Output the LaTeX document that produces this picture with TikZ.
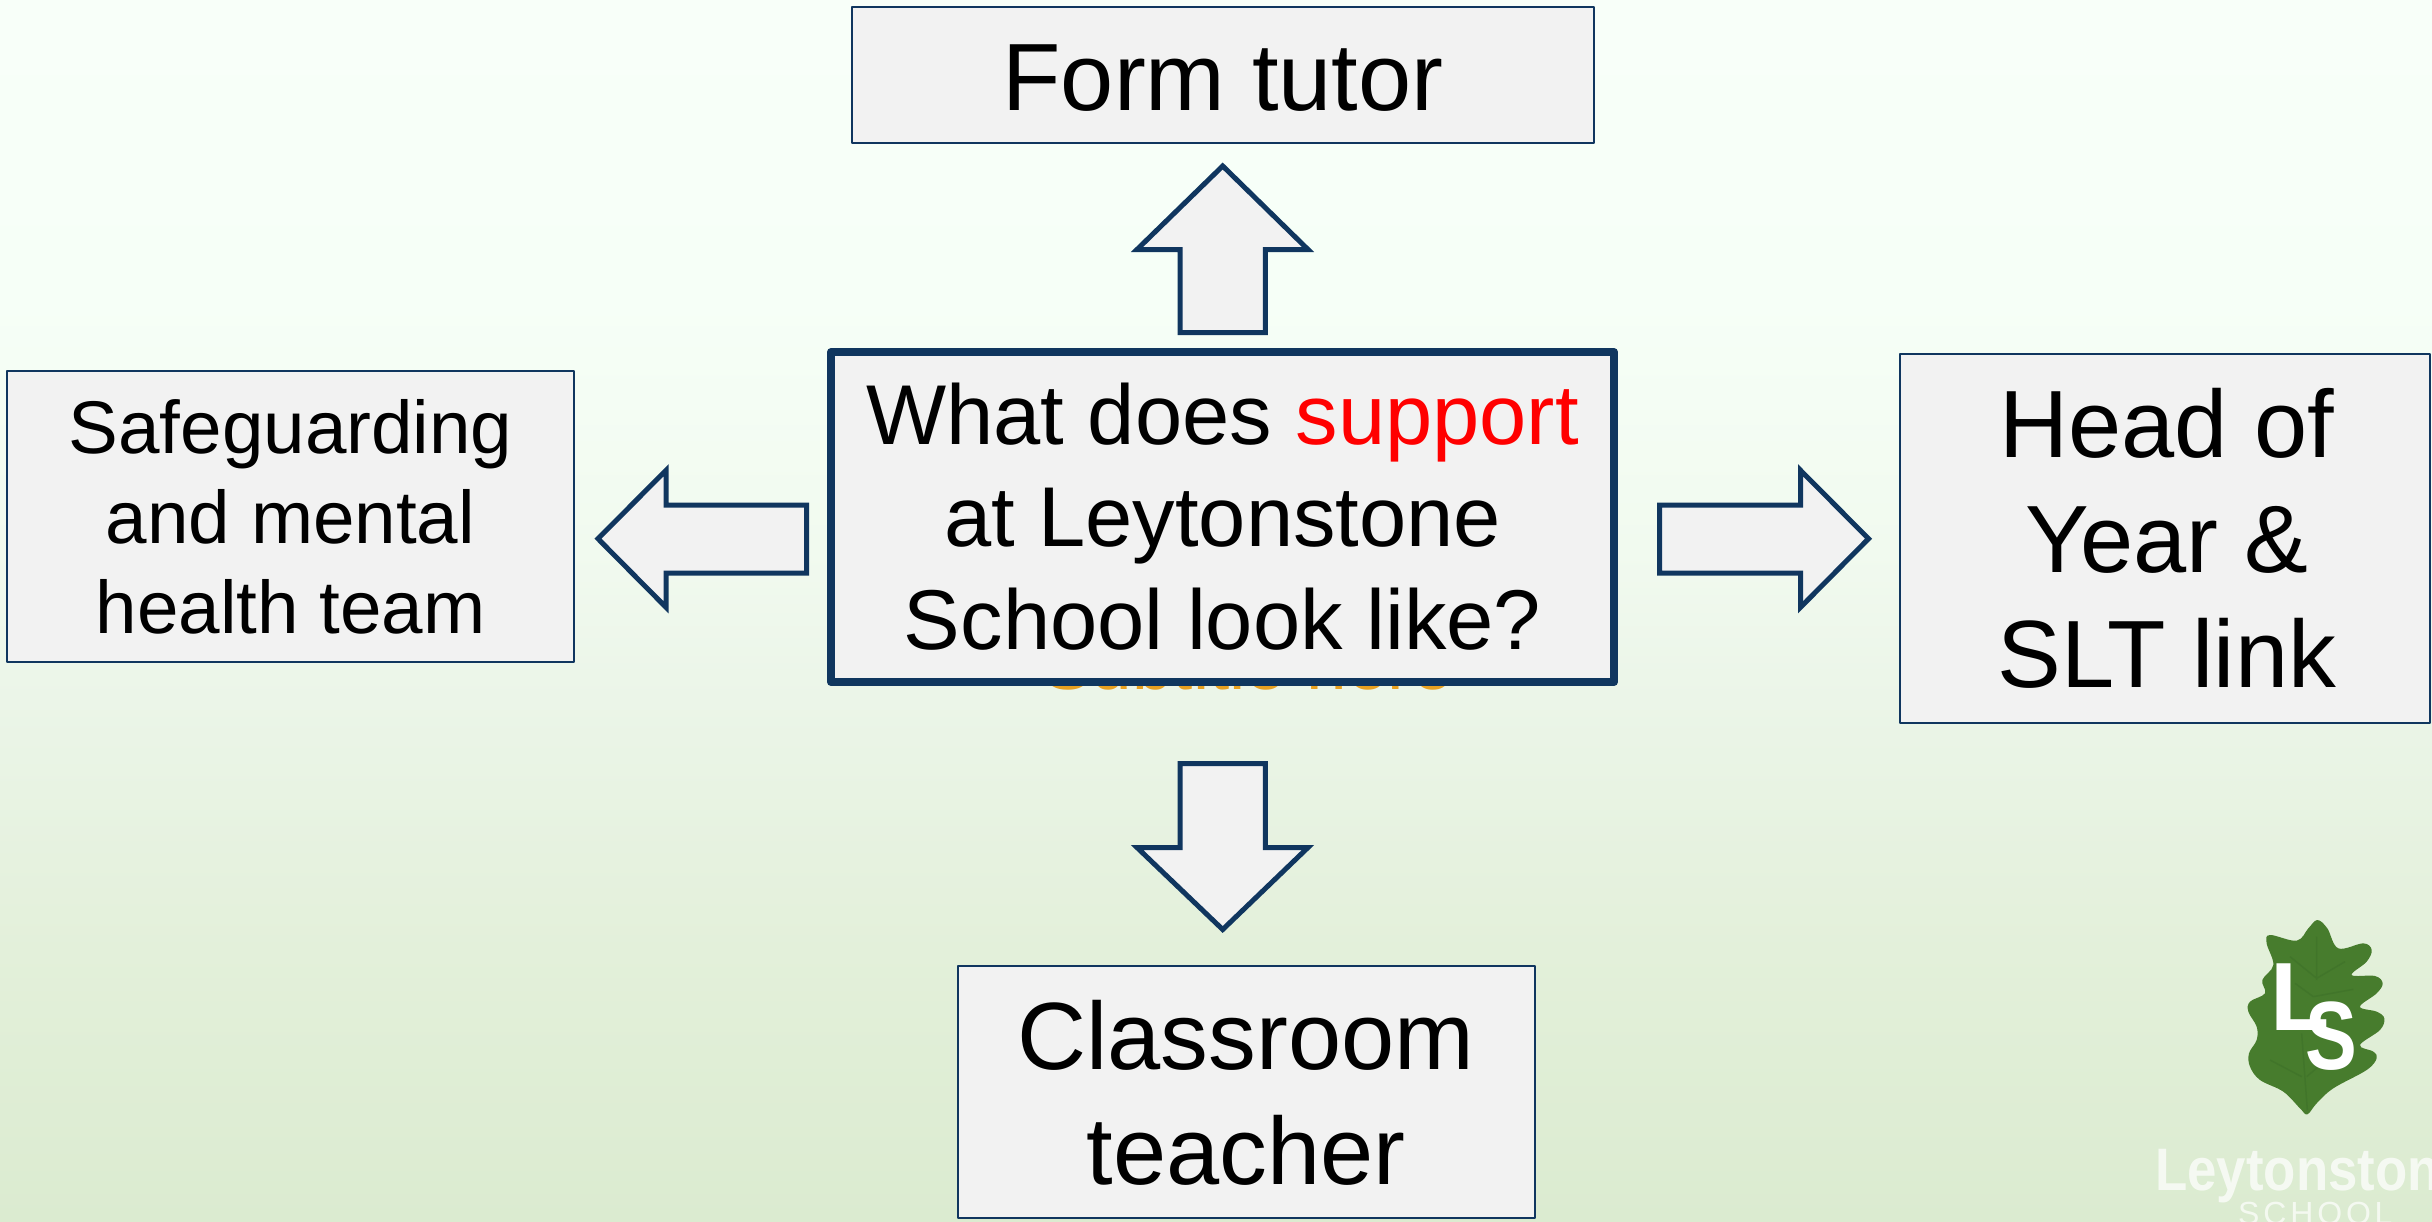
\documentclass[tikz,border=0pt]{standalone}
\usepackage{fontspec}
\setmainfont{Liberation Sans}
\newfontfamily\spacedfont[LetterSpace=12]{Liberation Sans}
\definecolor{navy}{HTML}{10365F}
\definecolor{panel}{HTML}{F2F2F2}
\definecolor{subtitle}{HTML}{E8A020}
\definecolor{leaf}{HTML}{477C2D}
\definecolor{vein}{HTML}{41752A}
\definecolor{bgA}{HTML}{F8FFF9}
\definecolor{bgB}{HTML}{F6FFF7}
\definecolor{bgC}{HTML}{F1FAEF}
\definecolor{bgD}{HTML}{EBF5E8}
\definecolor{bgE}{HTML}{E3F0DA}
\definecolor{bgF}{HTML}{DBEBD0}
\pgfdeclareverticalshading{bgshade}{100bp}{color(0bp)=(bgF); color(25bp)=(bgF); color(36.1bp)=(bgE); color(46.3bp)=(bgD); color(52.5bp)=(bgC); color(62.7bp)=(bgB); color(75bp)=(bgA); color(100bp)=(bgA)}
\newcommand{\boxtext}[2]{\raisebox{#1pt}[0pt][0pt]{\begin{tabular}[t]{@{}c@{}}#2\end{tabular}}}
\tikzset{
  panelbox/.style={draw=navy,fill=panel,line width=2pt,inner sep=0pt,line join=round,text=black,align=center},
  bigtext/.style={font=\fontsize{95.6}{115.2}\selectfont},
  midtext/.style={font=\fontsize{84.9}{102.6}\selectfont},
  smalltext/.style={font=\fontsize{74.6}{90}\selectfont},
  blockarrow/.style={draw=navy,fill=panel,line width=5pt,miter limit=10},
}
\begin{document}
\begin{tikzpicture}[x=1pt,y=-1pt]
\clip (0,0) rectangle (2432,1221);
\shade[shading=bgshade] (0,0) rectangle (2432,1221);
% subtitle hidden behind the central box
\node[anchor=base,text=subtitle,inner sep=0pt,font=\fontsize{73}{85}\selectfont] (subt) at (1248,689.5) {Subtitle here};
% boxes
\node[panelbox,bigtext,minimum width=742pt,minimum height=136pt] (form) at (1223,74.7) {\boxtext{-35.3}{Form tutor}};
\node[panelbox,smalltext,minimum width=567pt,minimum height=291pt] (safe) at (290.5,516.5) {\boxtext{63.5}{Safeguarding\\and mental\\health team}};
\node[panelbox,bigtext,minimum width=530pt,minimum height=369pt] (head) at (2165,538.5) {\hspace*{4pt}\boxtext{81.5}{Head of\\Year \&\\SLT link}};
\node[panelbox,bigtext,minimum width=577pt,minimum height=252pt] (class) at (1246,1091.7) {\boxtext{22.7}{Classroom\\teacher}};
\node[panelbox,midtext,line width=8pt,minimum width=783pt,minimum height=330pt] (core) at (1222.5,517) {\boxtext{73}{What does \textcolor{red}{support}\\at Leytonstone\\School look like?}};
% block arrows
\draw[blockarrow] (1222.7,166) -- (1308,249.5) -- (1265.3,249.5) -- (1265.3,332.5) -- (1180,332.5) -- (1180,249.5) -- (1137,249.5) -- cycle;
\draw[blockarrow] (1222.7,929.5) -- (1308,847.5) -- (1265.3,847.5) -- (1265.3,763.5) -- (1180,763.5) -- (1180,847.5) -- (1137,847.5) -- cycle;
\draw[blockarrow] (598,538.7) -- (666,470.3) -- (666,505) -- (806.7,505) -- (806.7,573) -- (666,573) -- (666,607.3) -- cycle;
\draw[blockarrow] (1868.5,538.7) -- (1800.5,470.3) -- (1800.5,505) -- (1659.7,505) -- (1659.7,573) -- (1800.5,573) -- (1800.5,607.3) -- cycle;
% logo
\begin{scope}[shift={(2100,900)},x=0.3333pt,y=-0.3333pt]
\fill[leaf] plot[smooth cycle,tension=0.6] coordinates {(652,60) (682,85) (715,145) (790,130) (815,150) (800,185) (755,225) (825,228) (848,250) (830,280) (780,320) (830,335) (853,355) (840,390) (780,435) (820,455) (830,475) (800,510) (700,565) (650,610) (622,643) (600,625) (550,575) (480,540) (450,500) (447,460) (470,420) (470,380) (445,335) (450,305) (495,280) (487,240) (520,195) (500,130) (510,105) (590,122) (625,85)};
\draw[vein,line width=1.5pt] (650,110) -- (650,240) (650,235) -- (735,185) (650,235) -- (570,170) (640,290) -- (760,268) (640,290) -- (585,250) (622,630) -- (605,400) (605,530) -- (510,480) (620,530) -- (690,470);
\end{scope}
\node[anchor=base west,text=white,inner sep=0pt,font=\fontsize{97}{110}\bfseries\selectfont] (logoL) at (2270,1030) {L};
\node[anchor=base west,text=white,inner sep=0pt,xscale=.8,font=\fontsize{97}{110}\bfseries\selectfont] (logoS) at (2305,1069) {S};
\node[anchor=base west,text=white,opacity=.72,inner sep=0pt,xscale=.88,font=\fontsize{60}{70}\bfseries\selectfont] (logoA) at (2155,1190) {Leytonstone};
\node[anchor=base west,text=white,opacity=.7,inner sep=0pt,font=\fontsize{32}{36}\spacedfont] (logoB) at (2238,1224) {SCHOOL};
\end{tikzpicture}
\end{document}
